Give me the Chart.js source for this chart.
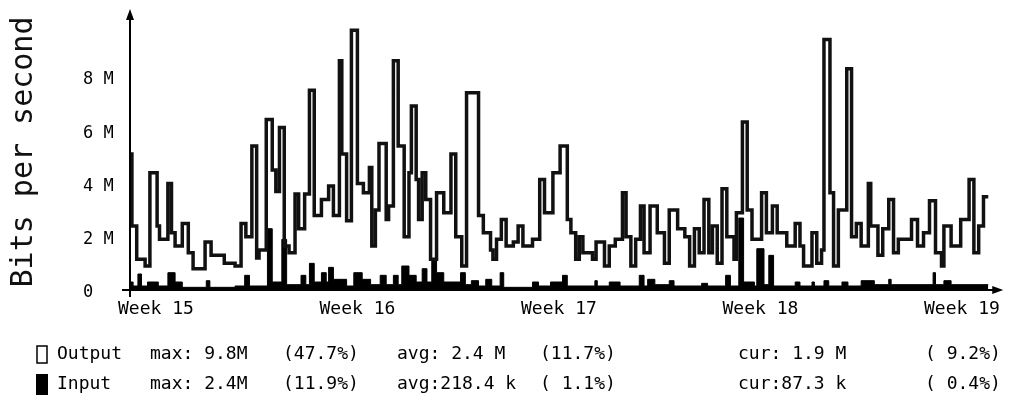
<!DOCTYPE html>
<html>
<head>
<meta charset="utf-8">
<script src="https://cdn.jsdelivr.net/npm/chart.js@4/dist/chart.umd.min.js"></script>
<style>
html, body { margin: 0; padding: 0; background: #fff; }
#wrap { width: 1009px; height: 404px; }
</style>
</head>
<body>
<div id="wrap"><canvas id="mrtg" width="1009" height="404"></canvas></div>
<script>
// time in hours from the start of week 15, traffic in Mbit/s (step values)
const outputHours = [
  -22, -20, -16, -9, -5, 1, 3, 10, 13, 16,
  22, 27, 31, 41, 46, 57, 66, 71, 75, 80,
  84, 86, 92, 97, 100, 103, 107, 111, 116, 119,
  124, 128, 132, 138, 144, 148, 153, 155, 159, 163,
  168, 173, 178, 180, 183, 186, 192, 194, 198, 202,
  207, 211, 213, 217, 219, 222, 225, 229, 234, 240,
  246, 250, 255, 259, 269, 273, 279, 281, 284, 288,
  292, 298, 302, 306, 314, 320, 324, 331, 337, 343,
  346, 350, 353, 356, 364, 367, 374, 378, 383, 389,
  392, 396, 400, 404, 407, 412, 418, 424, 428, 435,
  441, 445, 449, 453, 457, 461, 464, 468, 472, 476,
  482, 484, 489, 493, 497, 505, 509, 514, 518, 526,
  533, 537, 540, 547, 551, 555, 557, 562, 565, 569,
  576, 580, 584, 588, 594, 596, 602, 606, 611, 615,
  619, 630, 635, 640, 645, 650, 655, 657, 663, 671,
  678, 682, 686, 690, 694
];
const outputValues = [
  5.1, 2.4, 1.15, 0.9, 4.4, 2.4, 1.9, 4.0, 2.15, 1.65,
  2.5, 1.4, 0.8, 1.8, 1.3, 1.0, 0.9, 2.5, 2.0, 5.4,
  1.2, 1.5, 6.4, 4.5, 3.7, 6.1, 1.65, 1.4, 3.6, 2.3,
  3.6, 7.5, 2.8, 3.4, 3.9, 2.8, 8.6, 5.1, 2.6, 9.75,
  4.0, 3.65, 4.6, 1.65, 3.0, 5.5, 2.65, 3.15, 8.6, 5.4,
  2.0, 4.4, 6.9, 4.15, 2.65, 4.4, 3.4, 1.15, 3.65, 2.9,
  5.1, 2.0, 0.9, 7.4, 2.8, 2.15, 1.5, 1.15, 1.9, 2.65,
  1.65, 1.8, 2.4, 1.65, 1.9, 4.15, 2.9, 4.4, 5.4, 2.65,
  2.15, 1.15, 2.0, 1.4, 1.15, 1.8, 0.9, 1.65, 1.9, 3.65,
  2.0, 0.9, 1.9, 3.15, 1.4, 3.15, 2.15, 1.0, 3.0, 2.3,
  2.0, 0.9, 2.3, 1.4, 3.4, 1.4, 2.4, 1.0, 3.8, 2.0,
  1.15, 2.9, 6.3, 3.0, 1.9, 3.65, 2.15, 3.15, 2.15, 1.65,
  2.5, 1.65, 0.9, 2.15, 1.0, 1.5, 9.4, 3.65, 0.9, 3.0,
  8.3, 2.0, 2.5, 1.65, 4.0, 2.4, 1.3, 2.3, 3.4, 1.4,
  1.9, 2.65, 1.65, 2.15, 3.35, 1.4, 0.9, 2.4, 1.65, 2.65,
  4.15, 1.4, 2.4, 3.5, 3.5
];
const inputHours = [
  -22, -19, -15, -12, -7, 2, 10, 16, 22, 42,
  45, 66, 74, 78, 93, 97, 105, 109, 121, 125,
  128, 132, 138, 142, 144, 148, 159, 165, 172, 179,
  187, 192, 198, 202, 205, 211, 217, 222, 226, 230,
  234, 240, 254, 258, 263, 269, 275, 280, 287, 290,
  314, 319, 329, 339, 343, 366, 368, 378, 387, 403,
  407, 410, 416, 428, 432, 455, 460, 475, 479, 486,
  490, 499, 501, 507, 511, 515, 533, 537, 547, 549,
  557, 561, 572, 577, 588, 599, 611, 613, 648, 650,
  657, 663, 694
];
const inputValues = [
  0.3, 0.15, 0.6, 0.15, 0.3, 0.15, 0.65, 0.3, 0.1, 0.35,
  0.1, 0.15, 0.55, 0.15, 2.3, 0.3, 1.9, 0.2, 0.55, 0.2,
  1.0, 0.3, 0.65, 0.3, 0.85, 0.4, 0.15, 0.65, 0.4, 0.2,
  0.55, 0.2, 0.55, 0.2, 0.9, 0.55, 0.3, 0.8, 0.3, 1.15,
  0.65, 0.3, 0.65, 0.2, 0.35, 0.15, 0.4, 0.15, 0.65, 0.1,
  0.3, 0.15, 0.3, 0.55, 0.15, 0.35, 0.15, 0.3, 0.15, 0.55,
  0.15, 0.4, 0.2, 0.35, 0.15, 0.25, 0.15, 0.55, 0.15, 2.7,
  0.3, 0.15, 1.55, 0.2, 1.3, 0.15, 0.3, 0.15, 0.3, 0.15,
  0.35, 0.15, 0.3, 0.15, 0.35, 0.2, 0.4, 0.2, 0.65, 0.2,
  0.35, 0.2, 0.2
];
const weekTicks = [0, 168, 336, 504, 672];
const weekLabels = ['Week 15', 'Week 16', 'Week 17', 'Week 18', 'Week 19'];
const yTicks = [0, 2, 4, 6, 8];
const yTitle = 'Bits per second';

const legendNames = ['Output', 'Input'];
const legendMax = ['max: 9.8M', 'max: 2.4M'];
const legendMaxPct = ['(47.7%)', '(11.9%)'];
const legendAvg = ['avg: 2.4 M', 'avg:218.4 k'];
const legendAvgPct = ['(11.7%)', '( 1.1%)'];
const legendCur = ['cur: 1.9 M', 'cur:87.3 k'];
const legendCurPct = ['( 9.2%)', '( 0.4%)'];

const toPoints = (xs, ys) => xs.map((x, i) => ({ x: x, y: ys[i] }));
const mono = '"DejaVu Sans Mono", monospace';

// axes with arrows, y labels, rotated title and the mrtg style legend
const mrtgDecor = {
  id: 'mrtgDecor',
  afterDraw(chart) {
    const ctx = chart.ctx;
    const area = chart.chartArea;
    const y0 = chart.scales.y.getPixelForValue(0);
    ctx.save();
    ctx.strokeStyle = '#000';
    ctx.fillStyle = '#000';
    ctx.lineWidth = 2;

    // y axis
    ctx.beginPath();
    ctx.moveTo(area.left, y0 + 7);
    ctx.lineTo(area.left, 18);
    ctx.stroke();
    ctx.beginPath();
    ctx.moveTo(area.left, 9);
    ctx.lineTo(area.left - 4, 20);
    ctx.lineTo(area.left + 4, 20);
    ctx.closePath();
    ctx.fill();

    // x axis
    ctx.beginPath();
    ctx.moveTo(area.left - 8, y0);
    ctx.lineTo(area.right - 6, y0);
    ctx.stroke();
    ctx.beginPath();
    ctx.moveTo(area.right + 3, y0);
    ctx.lineTo(area.right - 8, y0 - 4);
    ctx.lineTo(area.right - 8, y0 + 4);
    ctx.closePath();
    ctx.fill();

    // y tick labels
    ctx.font = '17px ' + mono;
    ctx.textAlign = 'left';
    ctx.textBaseline = 'middle';
    yTicks.forEach(v => {
      const py = chart.scales.y.getPixelForValue(v) + 3;
      ctx.fillText(v === 0 ? '0' : v + ' M', 83, py);
    });

    // title
    ctx.save();
    ctx.translate(24, 152);
    ctx.rotate(-Math.PI / 2);
    ctx.font = '30px ' + mono;
    ctx.textAlign = 'center';
    ctx.fillStyle = '#111';
    ctx.fillText(yTitle, 0, 0);
    ctx.restore();

    // legend
    const rows = [354, 384];
    const cols = [57, 150, 283, 397, 540, 738, 925];
    ctx.font = '18px ' + mono;
    ctx.textBaseline = 'middle';
    rows.forEach((ry, i) => {
      if (i === 0) {
        ctx.lineWidth = 1.5;
        ctx.strokeStyle = '#000';
        ctx.strokeRect(37, ry - 8, 10, 17);
      } else {
        ctx.fillRect(36, ry - 10, 12, 21);
      }
      const parts = [legendNames[i], legendMax[i], legendMaxPct[i], legendAvg[i],
        legendAvgPct[i], legendCur[i], legendCurPct[i]];
      parts.forEach((t, j) => ctx.fillText(t, cols[j], ry));
    });
    ctx.restore();
  }
};

new Chart(document.getElementById('mrtg'), {
  type: 'line',
  data: {
    datasets: [
      {
        label: 'Output',
        data: toPoints(outputHours, outputValues),
        stepped: true,
        borderColor: '#111',
        borderWidth: 3.5,
        pointRadius: 0,
        fill: false
      },
      {
        label: 'Input',
        data: toPoints(inputHours, inputValues),
        stepped: true,
        borderColor: '#000',
        backgroundColor: '#000',
        borderWidth: 1,
        pointRadius: 0,
        fill: 'origin'
      }
    ]
  },
  options: {
    responsive: false,
    animation: false,
    devicePixelRatio: 1,
    layout: { padding: { left: 130, right: 4, top: 23.5, bottom: 0 } },
    plugins: { legend: { display: false }, tooltip: { enabled: false } },
    scales: {
      x: {
        type: 'linear',
        min: -21.6,
        max: 704,
        grid: { display: false, drawTicks: false },
        border: { display: false },
        afterFit: scale => { scale.height = 114; },
        afterBuildTicks: scale => { scale.ticks = weekTicks.map(v => ({ value: v })); },
        ticks: {
          autoSkip: false,
          maxRotation: 0,
          padding: 9,
          color: '#000',
          font: { family: mono, size: 18 },
          callback: (value, index) => weekLabels[index]
        }
      },
      y: {
        display: false,
        min: 0,
        max: 10
      }
    }
  },
  plugins: [mrtgDecor]
});
</script>
</body>
</html>
